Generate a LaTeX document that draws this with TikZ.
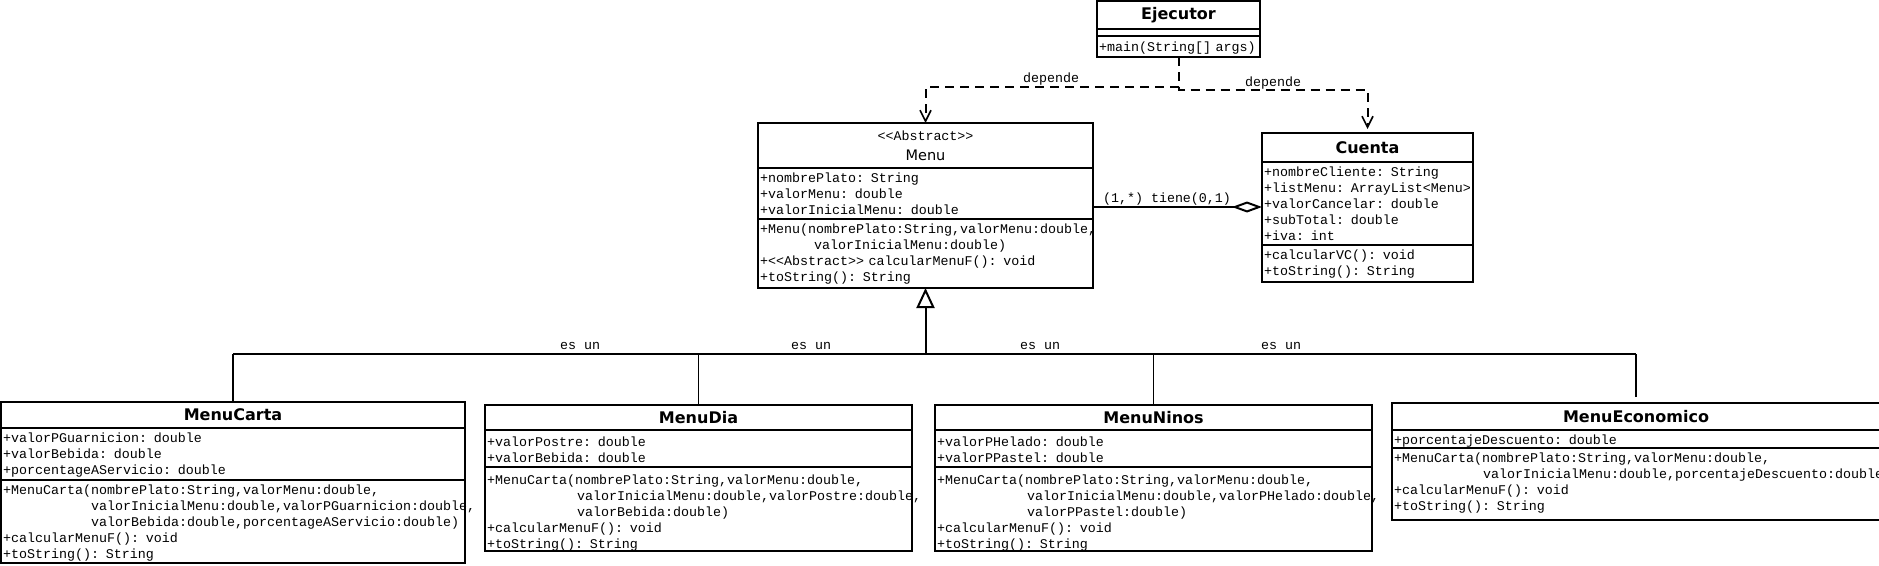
\documentclass[tikz,border=0pt]{standalone}
\usepackage{fontspec}
\setmonofont{Liberation Mono}
\newfontfamily\dvsans{DejaVu Sans}
\usetikzlibrary{arrows.meta}
\newcommand\monof{\ttfamily\fontsize{13.33}{16}\selectfont}
\newcommand\ttlfont{\dvsans\bfseries\fontsize{16}{19}\selectfont}
\begin{document}
\begin{tikzpicture}[x=1pt,y=-1pt,
  comp/.style={draw, line width=2pt, anchor=north west, inner sep=0pt, outer sep=0pt},
  ttl/.style={comp, font=\ttlfont},
  txt/.style={anchor=base west, inner sep=0pt, align=left, text width=700pt, font=\monof},
  lbl/.style={font=\monof, inner sep=1pt},
  dep/.style={line width=2pt, dash pattern=on 9pt off 6pt, -{Straight Barb[length=11pt,width=11pt,line width=1.6pt]}},
  agg/.style={line width=2pt, -{Diamond[open,length=30pt,width=11pt]}},
  gen/.style={line width=2pt, -{Triangle[open,length=20pt,width=18pt]}},
  bar/.style={line width=2.5pt},
  stub/.style={line width=1.6pt}]
\fill[white] (0,0) rectangle (1879,565);
\useasboundingbox (0,0) rectangle (1879,565);

% Ejecutor
\node[ttl, minimum width=163pt, minimum height=28pt] (ejT) at (1097,1) {Ejecutor};
\node[comp, minimum width=163pt, minimum height=7pt] (ejA) at (1097,29) {};
\node[comp, minimum width=163pt, minimum height=21pt] (ejM) at (1097,36) {};
\node[txt] (ejMt) at (1099,51.5) {+main(String[] args)};

% Menu
\node[comp, minimum width=335pt, minimum height=45pt] (menuT) at (758,123) {};
\node[lbl] (menuS) at (925.5,136) {{<}{<}Abstract{>}{>}};
\node[font=\dvsans\fontsize{14.5}{17}\selectfont, inner sep=0pt] (menuN) at (925.5,155) {Menu};
\node[comp, minimum width=335pt, minimum height=51pt] (menuA) at (758,168) {};
\node[txt] (menuAt) at (760,182) {+nombrePlato: String\\+valorMenu: double\\+valorInicialMenu: double};
\node[comp, minimum width=335pt, minimum height=69pt] (menuM) at (758,219) {};
\node[txt] (menuMt) at (760,233) {+Menu(nombrePlato:String,valorMenu:double,\\\hspace*{54pt}valorInicialMenu:double)\\+{<}{<}Abstract{>}{>} calcularMenuF(): void\\+toString(): String};

% Cuenta
\node[ttl, minimum width=211pt, minimum height=29pt] (cuentaT) at (1262,133) {Cuenta};
\node[comp, minimum width=211pt, minimum height=83pt] (cuentaA) at (1262,162) {};
\node[txt] (cuentaAt) at (1264,176.5) {+nombreCliente: String\\+listMenu: ArrayList{<}Menu{>}\\+valorCancelar: double\\+subTotal: double\\+iva: int};
\node[comp, minimum width=211pt, minimum height=37pt] (cuentaM) at (1262,245) {};
\node[txt] (cuentaMt) at (1264,259.5) {+calcularVC(): void\\+toString(): String};

% MenuCarta
\node[ttl, minimum width=464pt, minimum height=26pt] (cartaT) at (1,402) {MenuCarta};
\node[comp, minimum width=464pt, minimum height=52pt] (cartaA) at (1,428) {};
\node[txt] (cartaAt) at (3,442.5) {+valorPGuarnicion: double\\+valorBebida: double\\+porcentageAServicio: double};
\node[comp, minimum width=464pt, minimum height=83pt] (cartaM) at (1,480) {};
\node[txt] (cartaMt) at (3,494.5) {+MenuCarta(nombrePlato:String,valorMenu:double,\\\hspace*{88pt}valorInicialMenu:double,valorPGuarnicion:double,\\\hspace*{88pt}valorBebida:double,porcentageAServicio:double)\\+calcularMenuF(): void\\+toString(): String};

% MenuDia
\node[ttl, minimum width=427pt, minimum height=25pt] (diaT) at (485,405) {MenuDia};
\node[comp, minimum width=427pt, minimum height=37pt] (diaA) at (485,430) {};
\node[txt] (diaAt) at (487,446.5) {+valorPostre: double\\+valorBebida: double};
\node[comp, minimum width=427pt, minimum height=84pt] (diaM) at (485,467) {};
\node[txt] (diaMt) at (487,484.5) {+MenuCarta(nombrePlato:String,valorMenu:double,\\\hspace*{90pt}valorInicialMenu:double,valorPostre:double,\\\hspace*{90pt}valorBebida:double)\\+calcularMenuF(): void\\+toString(): String};

% MenuNinos
\node[ttl, minimum width=437pt, minimum height=25pt] (ninosT) at (935,405) {MenuNinos};
\node[comp, minimum width=437pt, minimum height=37pt] (ninosA) at (935,430) {};
\node[txt] (ninosAt) at (937,446.5) {+valorPHelado: double\\+valorPPastel: double};
\node[comp, minimum width=437pt, minimum height=84pt] (ninosM) at (935,467) {};
\node[txt] (ninosMt) at (937,484.5) {+MenuCarta(nombrePlato:String,valorMenu:double,\\\hspace*{90pt}valorInicialMenu:double,valorPHelado:double,\\\hspace*{90pt}valorPPastel:double)\\+calcularMenuF(): void\\+toString(): String};

% MenuEconomico
\node[ttl, minimum width=488pt, minimum height=27pt] (econT) at (1392,403) {MenuEconomico};
\node[comp, minimum width=488pt, minimum height=18pt] (econA) at (1392,430) {};
\node[txt] (econAt) at (1394,444) {+porcentajeDescuento: double};
\node[comp, minimum width=488pt, minimum height=72pt] (econM) at (1392,448) {};
\node[txt] (econMt) at (1394,462.5) {+MenuCarta(nombrePlato:String,valorMenu:double,\\\hspace*{89pt}valorInicialMenu:double,porcentajeDescuento:double)\\+calcularMenuF(): void\\+toString(): String};

% dependencies
\draw[dep] (ejM.south) -- ++(0,30) -| (menuT.north);
\draw[dep] (ejM.south) -- ++(0,33) -| ([yshift=4pt]cuentaT.north);
\node[lbl] (dep1) at (1051,79) {depende};
\node[lbl] (dep2) at (1273,83) {depende};

% aggregation
\coordinate (aggS) at ([yshift=12pt]menuA.south east);
\draw[agg] (aggS) -- (aggS -| cuentaA.west);
\node[lbl] (aggL) at (1167,199) {(1,*) tiene(0,1)};

% generalization
\coordinate (hub) at (925.5,354);
\draw[gen] (hub) -- (menuM.south);
\draw[bar] (cartaT.north |- hub) -- (econT.north |- hub);
\draw[stub] (cartaT.north) -- (cartaT.north |- hub);
\draw[stub] (diaT.north) -- (diaT.north |- hub);
\draw[stub] (ninosT.north) -- (ninosT.north |- hub);
\draw[stub] ([yshift=6pt]econT.north) -- (econT.north |- hub);
\node[lbl] (es1) at (580,346) {es un};
\node[lbl] (es2) at (811,346) {es un};
\node[lbl] (es3) at (1040,346) {es un};
\node[lbl] (es4) at (1281,346) {es un};
\end{tikzpicture}
\end{document}
